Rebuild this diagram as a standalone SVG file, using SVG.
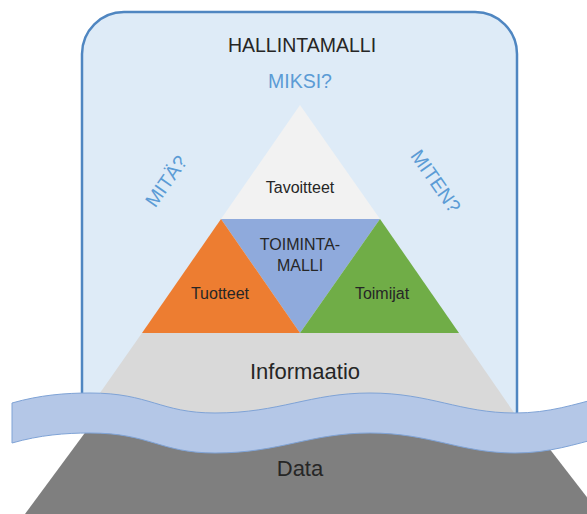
<svg xmlns="http://www.w3.org/2000/svg" width="587" height="514" viewBox="0 0 587 514">
<style>
text{font-family:"Liberation Sans",Arial,sans-serif;text-anchor:middle;fill:#262626}
.q{fill:#5b9bd5;font-size:19.5px}
.l{font-size:16px}
.b{font-size:22px}
</style>
<rect width="587" height="514" fill="#ffffff"/>
<g id="frame">
<path d="M82,402 V54 A42,42 0 0 1 124,12 H475 A42,42 0 0 1 517,54 V422 Z" fill="#deebf7"/>
<path d="M82,402 V54 A42,42 0 0 1 124,12 H475 A42,42 0 0 1 517,54 V422" fill="none" stroke="#4f86c1" stroke-width="2.5"/>
<text x="302" y="52" style="font-size:19.5px">HALLINTAMALLI</text>
<text class="q" x="300" y="88">MIKSI?</text>
<text class="q" transform="translate(166,181) rotate(-55)" y="7">MITÄ?</text>
<text class="q" transform="translate(436,181) rotate(55)" y="7">MITEN?</text>
</g>
<g id="informaatio">
<polygon points="142,333 459,333 526,430 74,430" fill="#d9d9d9"/>
<text class="b" x="305" y="379">Informaatio</text>
</g>
<g id="tavoitteet">
<polygon points="300,105 380,219 221,219" fill="#f2f2f2"/>
<text class="l" x="300" y="193">Tavoitteet</text>
</g>
<g id="toimintamalli">
<polygon points="221,219 380,219 300,333" fill="#8faadc"/>
<text class="l" x="300" y="250">TOIMINTA-</text>
<text class="l" x="300" y="271">MALLI</text>
</g>
<g id="tuotteet">
<polygon points="221,219 300,333 142,333" fill="#ed7d31"/>
<text class="l" x="220" y="299">Tuotteet</text>
</g>
<g id="toimijat">
<polygon points="380,219 459,333 300,333" fill="#70ad47"/>
<text class="l" x="382" y="299">Toimijat</text>
</g>
<g id="data">
<polygon points="87,430 535,430 600,514 25,514" fill="#7f7f7f"/>
<text class="b" x="300" y="476">Data</text>
</g>
<g id="wave">
<path d="M12,403 C40,395 65,393 90,393 C150,393 160,413 215,413 C280,413 310,393 370,393 C430,393 460,413 515,413 C550,413 575,404 600,398 L600,438 C575,444 550,453 515,453 C460,453 430,433 370,433 C310,433 280,453 215,453 C160,453 150,433 90,433 C65,433 40,435 12,443 Z" fill="#b4c7e7" stroke="#7fa3d6" stroke-width="1"/>
</g>
</svg>
